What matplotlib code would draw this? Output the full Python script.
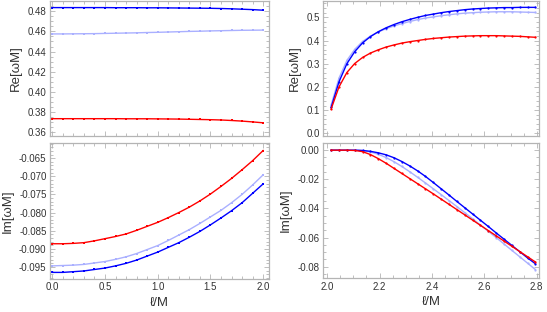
import numpy as np
import matplotlib
matplotlib.use("Agg")
import matplotlib.pyplot as plt
from matplotlib.ticker import MultipleLocator, FormatStrFormatter

plt.rcParams['font.family'] = ['Liberation Sans', 'DejaVu Sans']
plt.rcParams['axes.unicode_minus'] = False

# left column: l/M from 0 to 2
l_left = [0.0, 0.1, 0.2, 0.3, 0.4, 0.5, 0.6, 0.7, 0.8, 0.9, 1.0,
          1.1, 1.2, 1.3, 1.4, 1.5, 1.6, 1.7, 1.8, 1.9, 2.0]

re_blue_l = [0.4836, 0.4836, 0.4836, 0.4836, 0.4836, 0.4836, 0.4835, 0.4835, 0.4835, 0.4834, 0.4834,
             0.4833, 0.4832, 0.4831, 0.4830, 0.4829, 0.4827, 0.4824, 0.4820, 0.4816, 0.4810]
re_light_l = [0.4575, 0.4575, 0.4576, 0.4577, 0.4578, 0.4580, 0.4582, 0.4584, 0.4586, 0.4589, 0.4591,
              0.4594, 0.4597, 0.4600, 0.4602, 0.4605, 0.4607, 0.4609, 0.4611, 0.4612, 0.4613]
re_red_l = [0.3735, 0.3735, 0.3735, 0.3735, 0.3735, 0.3735, 0.3735, 0.3734, 0.3734, 0.3734, 0.3733,
            0.3732, 0.3731, 0.3729, 0.3727, 0.3725, 0.3722, 0.3717, 0.3711, 0.3703, 0.3694]

im_red_l = [-0.0886, -0.0886, -0.0885, -0.0883, -0.0878, -0.0872, -0.0866, -0.0859, -0.0849, -0.0838, -0.0827,
            -0.0814, -0.0800, -0.0785, -0.0768, -0.0749, -0.0728, -0.0706, -0.0682, -0.0657, -0.0629]
im_light_l = [-0.0947, -0.0946, -0.0945, -0.0943, -0.0939, -0.0935, -0.0929, -0.0922, -0.0913, -0.0902, -0.0891,
              -0.0877, -0.0862, -0.0847, -0.0830, -0.0812, -0.0794, -0.0773, -0.0750, -0.0724, -0.0696]
im_blue_l = [-0.0965, -0.0965, -0.0963, -0.0961, -0.0957, -0.0953, -0.0947, -0.0940, -0.0931, -0.0920, -0.0909,
             -0.0896, -0.0883, -0.0868, -0.0852, -0.0834, -0.0815, -0.0795, -0.0773, -0.0747, -0.0721]

# right column: l/M from 2.015 to 2.795
l_right = [2.015, 2.045, 2.075, 2.105, 2.135, 2.165, 2.195, 2.225, 2.255, 2.285, 2.315, 2.345, 2.375, 2.405,
           2.435, 2.465, 2.495, 2.525, 2.555, 2.585, 2.615, 2.645, 2.675, 2.705, 2.735, 2.765, 2.795]

re_red_r = [0.105, 0.200, 0.262, 0.301, 0.327, 0.346, 0.360, 0.372, 0.381, 0.389, 0.395, 0.400, 0.405, 0.409,
            0.412, 0.415, 0.417, 0.419, 0.420, 0.421, 0.421, 0.421, 0.420, 0.419, 0.418, 0.416, 0.414]
re_blue_r = [0.112, 0.222, 0.300, 0.352, 0.390, 0.417, 0.438, 0.455, 0.469, 0.481, 0.491, 0.500, 0.508, 0.514,
             0.520, 0.525, 0.529, 0.533, 0.536, 0.538, 0.540, 0.541, 0.542, 0.542, 0.543, 0.543, 0.543]
re_light_r = [0.122, 0.238, 0.314, 0.362, 0.396, 0.419, 0.437, 0.451, 0.463, 0.473, 0.482, 0.490, 0.497, 0.502,
              0.507, 0.511, 0.515, 0.518, 0.520, 0.522, 0.523, 0.524, 0.524, 0.524, 0.523, 0.522, 0.521]

im_red_r = [0.0, 0.0, 0.0, -0.0002, -0.0010, -0.0030, -0.0058, -0.0090, -0.0125, -0.0160, -0.0195, -0.0230,
            -0.0265, -0.0300, -0.0336, -0.0372, -0.0408, -0.0444, -0.0480, -0.0516, -0.0552, -0.0588, -0.0624,
            -0.0660, -0.0696, -0.0732, -0.0768]
im_blue_r = [0.0, 0.0, 0.0, 0.0, -0.0002, -0.0008, -0.0018, -0.0032, -0.0052, -0.0078, -0.0108, -0.0142,
             -0.0180, -0.0222, -0.0265, -0.0308, -0.0352, -0.0395, -0.0438, -0.0481, -0.0524, -0.0568, -0.0611,
             -0.0654, -0.0697, -0.0740, -0.0780]
im_light_r = [0.0, 0.0, 0.0, 0.0, -0.0003, -0.0012, -0.0028, -0.0051, -0.0079, -0.0112, -0.0148, -0.0186,
              -0.0225, -0.0265, -0.0305, -0.0346, -0.0387, -0.0429, -0.0471, -0.0514, -0.0557, -0.0600, -0.0644,
              -0.0688, -0.0732, -0.0776, -0.0820]

BLUE = '#0000ff'
LIGHT = '#aab0ff'
RED = '#ff0000'
FRAME = '#b4b4b4'
TXT = '#333333'

fig = plt.figure(figsize=(5.47, 3.12), dpi=100)
ax1 = fig.add_axes([0.0914, 0.564, 0.3995, 0.433])
ax2 = fig.add_axes([0.591, 0.564, 0.395, 0.433])
ax3 = fig.add_axes([0.0914, 0.106, 0.3995, 0.436])
ax4 = fig.add_axes([0.591, 0.108, 0.395, 0.434])


def style(ax, xmaj, xmin, ymaj, ymin, fmt):
    ax.xaxis.set_major_locator(MultipleLocator(xmaj))
    ax.xaxis.set_minor_locator(MultipleLocator(xmin))
    ax.yaxis.set_major_locator(MultipleLocator(ymaj))
    ax.yaxis.set_minor_locator(MultipleLocator(ymin))
    ax.yaxis.set_major_formatter(FormatStrFormatter(fmt))
    ax.xaxis.set_major_formatter(FormatStrFormatter('%.1f'))
    ax.tick_params(which='both', direction='in', top=True, right=True, color=FRAME,
                   labelsize=7, labelcolor=TXT, width=0.6, pad=2.5)
    ax.tick_params(which='major', length=3.5)
    ax.tick_params(which='minor', length=2)
    for s in ax.spines.values():
        s.set_color(FRAME)
        s.set_linewidth(0.9)


def left_series(ax, ys):
    for y, c in zip(ys, [LIGHT, BLUE, RED]):
        ax.plot(l_left, y, color=c, lw=1.0, marker='s', ms=2.0, mew=0)


def right_series(ax, ys):
    for y, c in zip(ys, [LIGHT, BLUE, RED]):
        ax.plot(l_right, y, color=c, lw=1.0, marker='o', ms=1.6, mew=0)


left_series(ax1, [re_light_l, re_blue_l, re_red_l])
ax1.set_xlim(-0.022, 2.051)
ax1.set_ylim(0.3563, 0.4902)
style(ax1, 0.5, 0.1, 0.02, 0.005, '%.2f')
ax1.tick_params(labelbottom=False)
ax1.set_ylabel('Re[ωM]', fontsize=9.5, color=TXT, labelpad=4)

right_series(ax2, [re_light_r, re_blue_r, re_red_r])
ax2.set_xlim(1.985, 2.81)
ax2.set_ylim(-0.0116, 0.5707)
style(ax2, 0.2, 0.05, 0.1, 0.02, '%.1f')
ax2.tick_params(labelbottom=False)
ax2.set_ylabel('Re[ωM]', fontsize=9.5, color=TXT, labelpad=4)

left_series(ax3, [im_light_l, im_blue_l, im_red_l])
ax3.set_xlim(-0.022, 2.051)
ax3.set_ylim(-0.0983, -0.0608)
style(ax3, 0.5, 0.1, 0.005, 0.001, '%.3f')
ax3.set_ylabel('Im[ωM]', fontsize=9.5, color=TXT, labelpad=4)
ax3.set_xlabel('ℓ/M', fontsize=9.5, color=TXT, labelpad=3)

right_series(ax4, [im_light_r, im_blue_r, im_red_r])
ax4.set_xlim(1.985, 2.81)
ax4.set_ylim(-0.088, 0.005)
style(ax4, 0.2, 0.05, 0.02, 0.005, '%.2f')
ax4.set_ylabel('Im[ωM]', fontsize=9.5, color=TXT, labelpad=4)
ax4.set_xlabel('ℓ/M', fontsize=9.5, color=TXT, labelpad=3)

fig.savefig('out.png', dpi=100)
